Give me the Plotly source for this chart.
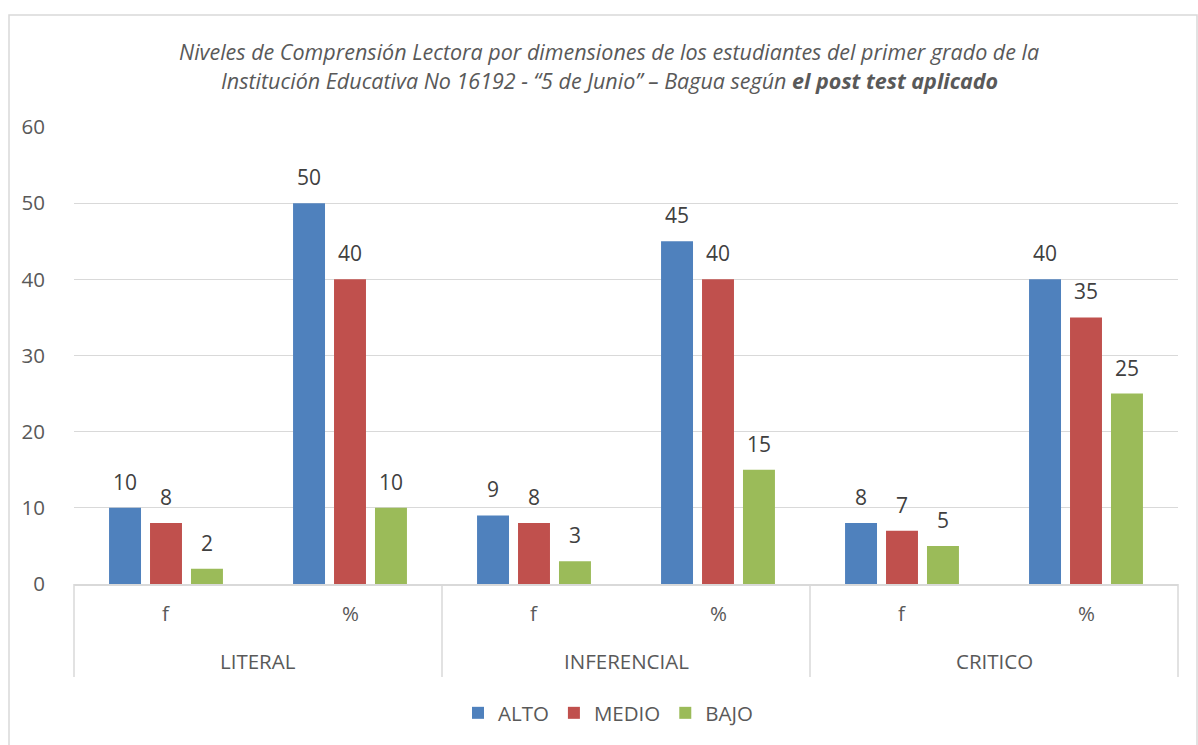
import plotly.graph_objects as go

groups = ["LITERAL", "INFERENCIAL", "CRITICO"]
subcats = ["f", "%"]
series_names = ["ALTO", "MEDIO", "BAJO"]
alto = [10, 50, 9, 45, 8, 40]
medio = [8, 40, 8, 40, 7, 35]
bajo = [2, 10, 3, 15, 5, 25]
colors = ["#4F81BD", "#C0504D", "#9BBB59"]
y_ticks = [0, 10, 20, 30, 40, 50, 60]

FONT = "Open Sans"
TXT = "#595959"
LBL = "#404040"
BARGAP = 0.332
GROUPGAP = 0.22

n = len(groups) * len(subcats)
xs = list(range(n))
sub_labels = [s for g in groups for s in subcats]

fig = go.Figure()
all_series = [alto, medio, bajo]
for name, vals, col in zip(series_names, all_series, colors):
    fig.add_trace(go.Bar(
        x=xs, y=vals, name=name, marker=dict(color=col, line=dict(width=0)),
        hoverinfo="y",
    ))

annotations = []
slot = (1 - BARGAP) / len(series_names)
for k, vals in enumerate(all_series):
    off = (k - (len(series_names) - 1) / 2) * slot
    for i, v in enumerate(vals):
        annotations.append(dict(x=i + off, y=v, xref="x", yref="y", text=str(v),
                                showarrow=False, yshift=26, yanchor="middle", xanchor="center",
                                font=dict(family=FONT, size=21, color=LBL)))

# sub-category labels
for i, s in enumerate(sub_labels):
    annotations.append(dict(x=i, y=-29 / 457, xref="x", yref="paper", text=s,
                            showarrow=False, yanchor="middle", xanchor="center",
                            font=dict(family=FONT, size=20.5, color=TXT)))
# group labels
for j, g in enumerate(groups):
    annotations.append(dict(x=(2 * j + 1) / (2 * len(groups)), y=-77 / 457, xref="paper", yref="paper",
                            text=g, showarrow=False, yanchor="middle", xanchor="center",
                            font=dict(family=FONT, size=20.5, color=TXT)))

# title (two lines)
annotations.append(dict(x=(609 - 74) / 1104, y=(584 - 51) / 457, xref="paper", yref="paper",
                        text="<i>Niveles de Comprensión Lectora por dimensiones de los estudiantes del primer grado de la</i>",
                        showarrow=False, yanchor="middle", xanchor="center",
                        font=dict(family=FONT, size=21.5, color=TXT)))
annotations.append(dict(x=(609 - 74) / 1104, y=(584 - 80) / 457, xref="paper", yref="paper",
                        text="<i>Institución Educativa No 16192 - “5 de Junio” – Bagua según <b>el post test aplicado</b></i>",
                        showarrow=False, yanchor="middle", xanchor="center",
                        font=dict(family=FONT, size=21.5, color=TXT)))

shapes = []
# group dividers
for j in range(len(groups) + 1):
    xp = j / len(groups)
    shapes.append(dict(type="line", xref="paper", yref="paper", x0=xp, x1=xp,
                       y0=0, y1=-93 / 457, line=dict(color="#d9d9d9", width=1.5)))
# chart border
shapes.append(dict(type="rect", xref="paper", yref="paper",
                   x0=(9 - 74) / 1104, x1=(1197 - 74) / 1104,
                   y0=(584 - 760) / 457, y1=(584 - 15) / 457,
                   line=dict(color="#d9d9d9", width=1.5), fillcolor="rgba(0,0,0,0)", layer="below"))

fig.update_layout(
    width=1198, height=745,
    margin=dict(l=74, r=20, t=127, b=161),
    paper_bgcolor="white", plot_bgcolor="white",
    barmode="group", bargap=BARGAP, bargroupgap=GROUPGAP,
    showlegend=True,
    legend=dict(orientation="h", x=(608 - 74) / 1104, xanchor="center",
                y=(584 - 713) / 457, yanchor="middle",
                font=dict(family=FONT, size=20.5, color=TXT), traceorder="normal",
                itemwidth=30),
    xaxis=dict(range=[-0.5, n - 0.5], showticklabels=False, showgrid=False,
               showline=True, linecolor="#d9d9d9", linewidth=1.5, zeroline=False, ticks=""),
    yaxis=dict(range=[0, 60], tickvals=y_ticks, showgrid=True, gridcolor="#d9d9d9",
               gridwidth=1.3, zeroline=False, showline=False,
               tickfont=dict(family=FONT, size=20.5, color=TXT), ticks="", ticklen=0,
               ticklabelstandoff=28),
    annotations=annotations, shapes=shapes,
)

fig.write_html("out.html", config={"displayModeBar": False},
               post_script="document.body.style.margin='0';document.body.style.overflow='hidden';")
